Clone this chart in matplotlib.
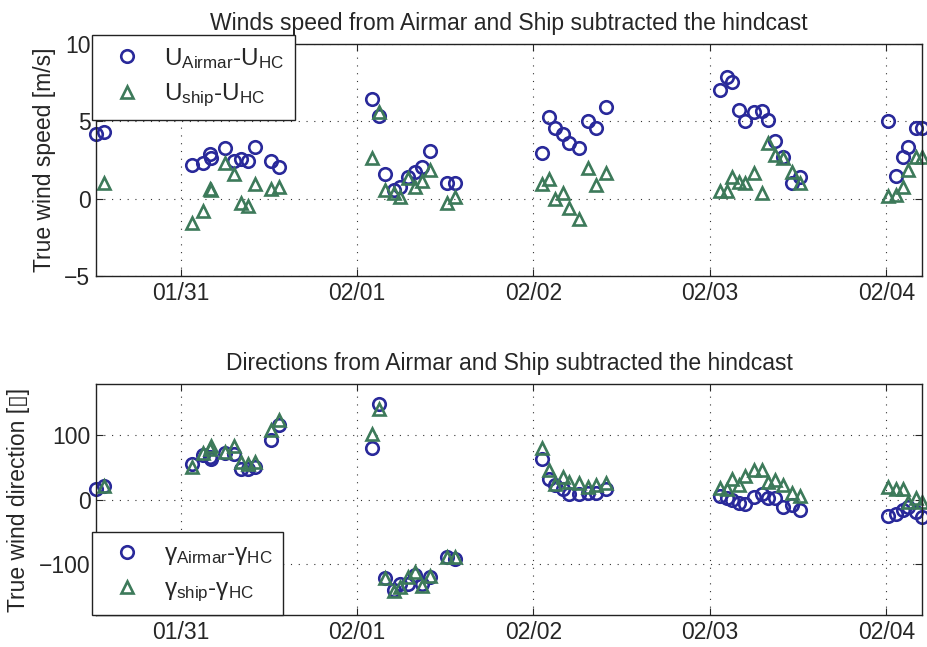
import numpy as np
import pandas as pd
import matplotlib
matplotlib.use("Agg")
import matplotlib.pyplot as plt
import matplotlib.dates as mdates

plt.rcParams['font.family'] = ['Liberation Sans', 'DejaVu Sans']
plt.rcParams['mathtext.fontset'] = 'custom'
plt.rcParams['mathtext.rm'] = 'Liberation Sans'
plt.rcParams['mathtext.it'] = 'Liberation Sans'

# ---- data (time in days after 01/31 00:00) ----
t = [-0.480, -0.434,
     0.062, 0.126, 0.166, 0.174, 0.249, 0.302, 0.343, 0.381, 0.421, 0.513, 0.559,
     1.086, 1.127, 1.161, 1.208, 1.246, 1.288, 1.331, 1.369, 1.416, 1.511, 1.558,
     2.049, 2.091, 2.125, 2.166, 2.204, 2.261, 2.310, 2.355, 2.414,
     3.059, 3.097, 3.125, 3.163, 3.201, 3.248, 3.296, 3.330, 3.371, 3.413, 3.466, 3.513,
     4.013, 4.057, 4.093, 4.122, 4.169, 4.203]

u_airmar = [4.18, 4.33,
            2.18, 2.29, 2.89, 2.61, 3.26, 2.44, 2.55, 2.46, 3.36, 2.46, 2.07,
            6.44, 5.35, 1.60, 0.56, 0.78, 1.42, 1.75, 2.03, 3.10, 0.99, 0.99,
            2.93, 5.26, 4.59, 4.18, 3.58, 3.26, 5.02, 4.59, 5.95,
            7.03, 7.89, 7.56, 5.73, 5.02, 5.62, 5.69, 5.09, 3.73, 2.68, 1.03, 1.42,
            5.02, 1.47, 2.68, 3.32, 4.59, 4.59]

u_ship = [np.nan, 1.03,
          -1.55, -0.78, 0.60, 0.55, 2.33, 1.60, -0.30, -0.45, 0.95, 0.61, 0.74,
          2.61, 5.62, 0.56, 0.39, 0.09, 1.32, 0.74, 1.16, 1.85, -0.26, 0.13,
          0.95, 1.25, -0.04, 0.39, -0.58, -1.33, 1.97, 0.89, 1.64,
          0.52, 0.52, 1.42, 1.10, 0.99, 1.64, 0.35, 3.58, 2.82, 2.61, 1.75, 0.99,
          0.17, 0.24, 0.78, 1.85, 2.71, 2.71]

dir_airmar = [17.1, 20.7,
              56.0, 69.0, 67.0, 63.0, 72.5, 71.5, 48.0, 48.0, 50.0, 92.0, 115.6,
              80.9, 149.0, -123.0, -141.0, -132.0, -131.0, -118.0, -131.0, -121.0, -89.0, -93.0,
              63.8, 32.6, 22.0, 17.0, 9.3, 9.3, 10.3, 10.3, 17.0,
              5.1, 1.6, -1.0, -6.2, -7.3, 4.0, 8.2, 1.6, 3.1, -11.5, -8.9, -15.6,
              -26.0, -22.9, -16.6, -12.4, -19.3, -27.0]

dir_ship = [np.nan, 20.7,
            50.0, 72.5, 78.0, 83.0, 74.0, 83.0, 58.5, 56.0, 58.5, 109.0, 124.0,
            102.6, 141.5, -123.0, -142.0, -136.0, -121.0, -112.6, -135.0, -119.0, -89.0, -89.0,
            80.9, 45.6, 24.9, 35.2, 27.4, 25.8, 19.6, 22.2, 25.8,
            18.7, 17.0, 32.7, 22.2, 36.2, 45.6, 46.7, 27.4, 31.0, 22.2, 10.3, 5.1,
            19.6, 15.6, 15.6, -4.0, 1.6, -3.7]

base = pd.Timestamp("2013-01-31")
times = base + pd.to_timedelta(np.array(t), unit="D")

x_min = base + pd.to_timedelta(min(t), unit="D")
x_max = base + pd.to_timedelta(max(t), unit="D")

blue = '#29299a'
green = '#3d7a5a'
ms = 9
mew = 1.9
txt = '#262626'

fig = plt.figure(figsize=(9.27, 6.47), dpi=100)
ax1 = fig.add_axes([96/927, 1-276/647, (922-96)/927, (276-44)/647])
ax2 = fig.add_axes([96/927, 1-615/647, (922-96)/927, (615-384)/647])

fs = 16.5

def style(ax):
    ax.grid(True, linestyle=(0, (1, 6)), color='#333333', linewidth=0.8)
    ax.tick_params(direction='in', length=5, width=0.8, top=True, right=True,
                   labelsize=fs, colors=txt)
    ax.tick_params(axis='x', pad=4)
    ax.tick_params(axis='y', pad=4)
    for s in ax.spines.values():
        s.set_linewidth(1.0)
        s.set_color('#222222')
    ax.xaxis.set_major_locator(mdates.DayLocator())
    ax.xaxis.set_major_formatter(mdates.DateFormatter('%m/%d'))
    ax.set_xlim(x_min, x_max)

# top panel
ax1.plot(times, u_airmar, 'o', mfc='none', mec=blue, ms=ms, mew=mew, clip_on=False,
         label=r'U$_{\mathregular{Airmar}}$-U$_{\mathregular{HC}}$')
ax1.plot(times, u_ship, '^', mfc='none', mec=green, ms=ms, mew=mew, clip_on=False,
         label=r'U$_{\mathregular{ship}}$-U$_{\mathregular{HC}}$')
style(ax1)
ax1.set_ylim(-5, 10)
ax1.set_yticks([-5, 0, 5, 10])
ax1.set_ylabel('True wind speed [m/s]', fontsize=fs, color=txt, labelpad=6)
ax1.set_title('Winds speed from Airmar and Ship subtracted the hindcast',
              fontsize=fs, pad=10, color=txt)

# bottom panel
ax2.plot(times, dir_airmar, 'o', mfc='none', mec=blue, ms=ms, mew=mew, clip_on=False,
         label=r'$\gamma_{\mathregular{Airmar}}$-$\gamma_{\mathregular{HC}}$')
ax2.plot(times, dir_ship, '^', mfc='none', mec=green, ms=ms, mew=mew, clip_on=False,
         label=r'$\gamma_{\mathregular{ship}}$-$\gamma_{\mathregular{HC}}$')
style(ax2)
ax2.set_ylim(-180, 180)
ax2.set_yticks([-100, 0, 100])
ax2.set_ylabel('True wind direction [\u25af]', fontsize=fs, color=txt, labelpad=6)
ax2.set_title('Directions from Airmar and Ship subtracted the hindcast',
              fontsize=fs, pad=10, color=txt)

leg_kw = dict(frameon=True, fancybox=False, edgecolor='#222222', framealpha=1,
              fontsize=fs + 1, handletextpad=0.5, borderpad=0.45, labelspacing=0.45,
              handlelength=2.0, borderaxespad=0)
leg1 = ax1.legend(loc='upper left', bbox_to_anchor=(92/927, 1-35/647),
                  bbox_transform=fig.transFigure, **leg_kw)
leg1.get_frame().set_linewidth(1.0)
leg1.set_zorder(5)
leg2 = ax2.legend(loc='lower left', bbox_to_anchor=(92/927, 1-615/647),
                  bbox_transform=fig.transFigure, **leg_kw)
leg2.get_frame().set_linewidth(1.0)
leg2.set_zorder(5)
for leg in (leg1, leg2):
    for tx in leg.get_texts():
        tx.set_color(txt)

fig.savefig('out.png', dpi=100)
